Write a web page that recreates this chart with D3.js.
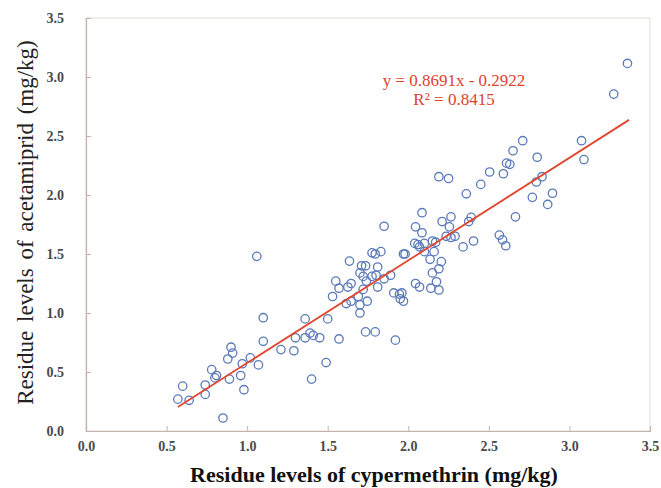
<!DOCTYPE html>
<html>
<head>
<meta charset="utf-8">
<script src="https://cdn.jsdelivr.net/npm/d3@7"></script>
<style>
	html, body { margin: 0; padding: 0; background: #fff; }
	svg { display: block; }
</style>
</head>
<body>
<div id="chart"></div>
<script>
// residue pairs (mg/kg)
var cypermethrin = [0.57,0.60,0.64,0.74,0.74,0.78,0.80,0.81,0.85,0.88,
	0.89,0.90,0.91,0.96,0.97,0.98,1.02,1.06,1.07,1.10,
	1.10,1.21,1.29,1.30,1.36,1.36,1.39,1.41,1.40,1.45,
	1.49,1.50,1.53,1.55,1.57,1.57,1.615,1.625,1.635,1.645,
	1.645,1.69,1.70,1.70,1.70,1.71,1.72,1.72,1.735,1.735,
	1.74,1.745,1.775,1.775,1.795,1.795,1.80,1.81,1.81,1.83,
	1.85,1.85,1.89,1.91,1.92,1.945,1.95,1.96,1.97,1.97,
	1.98,2.04,2.045,2.045,2.06,2.07,2.07,2.085,2.085,2.10,
	2.10,2.135,2.14,2.15,2.15,2.16,2.17,2.175,2.19,2.19,
	2.19,2.205,2.21,2.235,2.25,2.255,2.265,2.265,2.29,2.34,
	2.36,2.375,2.39,2.405,2.45,2.505,2.565,2.585,2.59,2.605,
	2.61,2.63,2.65,2.665,2.71,2.77,2.795,2.80,2.83,2.865,
	2.895,3.075,3.09,3.275,3.36];
var acetamiprid = [0.27,0.38,0.26,0.31,0.39,0.52,0.45,0.47,0.11,0.61,
	0.44,0.71,0.66,0.47,0.57,0.35,0.62,1.48,0.56,0.76,
	0.96,0.69,0.68,0.79,0.79,0.95,0.83,0.81,0.44,0.79,
	0.58,0.95,1.14,1.27,1.21,0.78,1.08,1.22,1.44,1.25,
	1.10,1.14,1.07,1.00,1.34,1.40,1.31,1.20,1.40,0.84,
	1.27,1.10,1.51,1.31,1.50,0.84,1.32,1.39,1.22,1.52,
	1.29,1.735,1.32,1.17,0.77,1.16,1.12,1.17,1.10,1.50,
	1.50,1.59,1.73,1.25,1.58,1.22,1.56,1.85,1.68,1.59,
	1.52,1.455,1.21,1.34,1.61,1.52,1.60,1.265,1.195,1.375,
	2.155,1.435,1.775,1.65,2.14,1.73,1.815,1.64,1.65,1.56,
	2.01,1.775,1.81,1.61,2.09,2.195,1.66,1.62,2.18,1.57,
	2.27,2.26,2.375,1.815,2.46,1.98,2.11,2.32,2.155,1.92,
	2.015,2.46,2.30,2.855,3.115];

var xTicks = [0, 0.5, 1.0, 1.5, 2.0, 2.5, 3.0, 3.5];
var yTicks = [0, 0.5, 1.0, 1.5, 2.0, 2.5, 3.0, 3.5];

// linear fit shown on the figure
var fitSlope = 0.8691;
var fitIntercept = -0.2922;
var fitRange = [0.57, 3.37];
var fitLabels = ["y = 0.8691x - 0.2922", "R\u00b2 = 0.8415"];

var xTitle = "Residue levels of cypermethrin (mg/kg)";
var yTitle = "Residue levels of acetamiprid (mg/kg)";

function drawChart() {
	var width = 661, height = 488;
	var left = 86, right = 650, top = 18, bottom = 431;
	var serif = "'Liberation Serif', 'Times New Roman', serif";
	var axisColor = "#c4b3aa";

	var svg = d3.select("#chart").append("svg")
		.attr("width", width).attr("height", height);

	var x = d3.scaleLinear().domain([0, 3.5]).range([left, right]);
	var y = d3.scaleLinear().domain([0, 3.5]).range([bottom, top]);

	// frame
	svg.append("rect").attr("x", left).attr("y", top)
		.attr("width", right - left).attr("height", bottom - top)
		.attr("fill", "none").attr("stroke", "#e2dcd8").attr("stroke-width", 1);

	// axes, ticks point inward
	var xAxis = d3.axisBottom(x).tickValues(xTicks).tickSize(-5)
		.tickFormat(d3.format(".1f"));
	var yAxis = d3.axisLeft(y).tickValues(yTicks).tickSize(-5)
		.tickFormat(d3.format(".1f"));

	var gx = svg.append("g").attr("transform", "translate(0," + bottom + ")").call(xAxis);
	var gy = svg.append("g").attr("transform", "translate(" + left + ",0)").call(yAxis);

	[gx, gy].forEach(function(g) {
		g.select(".domain").attr("stroke", axisColor).attr("stroke-width", 1.2);
		g.selectAll(".tick line").attr("stroke", axisColor);
		g.selectAll(".tick text").attr("font-family", serif).attr("font-size", "14px")
			.attr("font-weight", "bold").attr("fill", "#4a4a4a");
	});
	gx.selectAll(".tick text").attr("y", 10);
	gy.selectAll(".tick text").attr("x", -22);

	// points
	var pts = d3.range(cypermethrin.length).map(function(i) {
		return [cypermethrin[i], acetamiprid[i]];
	});
	svg.append("g").selectAll("circle").data(pts).enter().append("circle")
		.attr("cx", function(d) { return x(d[0]); })
		.attr("cy", function(d) { return y(d[1]); })
		.attr("r", 4.2)
		.attr("fill", "none")
		.attr("stroke", "#5a7aba")
		.attr("stroke-width", 1.3);

	// regression line
	svg.append("line")
		.attr("x1", x(fitRange[0])).attr("y1", y(fitSlope * fitRange[0] + fitIntercept))
		.attr("x2", x(fitRange[1])).attr("y2", y(fitSlope * fitRange[1] + fitIntercept))
		.attr("stroke", "#e2472f").attr("stroke-width", 1.8);

	svg.append("g").selectAll("text").data(fitLabels).enter().append("text")
		.text(function(d) { return d; })
		.attr("x", 454)
		.attr("y", function(d, i) { return 86 + i * 19; })
		.attr("text-anchor", "middle")
		.attr("font-family", serif).attr("font-size", "17px")
		.attr("fill", "#e0412d");

	// axis titles
	svg.append("text").text(xTitle)
		.attr("x", 374).attr("y", 482)
		.attr("text-anchor", "middle")
		.attr("font-family", serif).attr("font-size", "22px").attr("font-weight", "bold")
		.attr("fill", "#111");

	svg.append("text").text(yTitle)
		.attr("transform", "translate(33," + ((top + bottom) / 2 - 2) + ") rotate(-90)")
		.attr("text-anchor", "middle")
		.attr("font-family", serif).attr("font-size", "23px")
		.attr("word-spacing", "3px")
		.attr("fill", "#222");
}

drawChart();
</script>
</body>
</html>
